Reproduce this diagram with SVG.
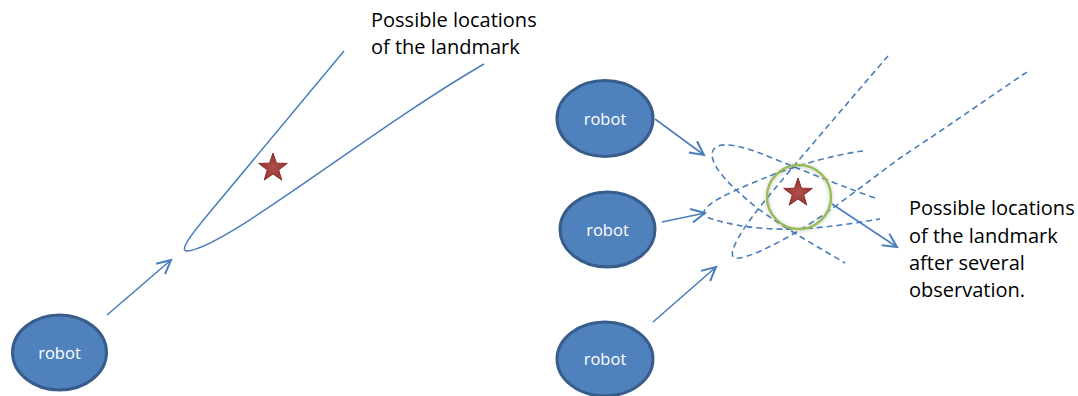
<svg xmlns="http://www.w3.org/2000/svg" width="1078" height="396" viewBox="0 0 1078 396">
<defs>
<marker id="arr" markerUnits="userSpaceOnUse" markerWidth="20" markerHeight="20" viewBox="-12 -8 14 16" refX="0" refY="0" orient="auto">
<path d="M -11,-5.5 L 0,0 L -11,5.5" fill="none" stroke="#4A7EBB" stroke-width="1.6" stroke-linejoin="miter"/>
</marker>
<radialGradient id="starg" cx="0.5" cy="0.55" r="0.5">
<stop offset="0" stop-color="#B0504D"/>
<stop offset="1" stop-color="#943532"/>
</radialGradient>
<filter id="glow" x="-30%" y="-30%" width="160%" height="160%">
<feGaussianBlur in="SourceAlpha" stdDeviation="2"/>
<feOffset dx="0" dy="1" result="b"/>
<feComponentTransfer><feFuncA type="linear" slope="0.25"/></feComponentTransfer>
<feMerge><feMergeNode/><feMergeNode in="SourceGraphic"/></feMerge>
</filter>
</defs>
<style>
.robot ellipse{fill:#4F81BD;stroke:#385D8A;stroke-width:3}
.robot text{fill:#FFFFFF;font-family:"Open Sans","Liberation Sans",Arial,sans-serif;font-size:16.5px;text-anchor:middle}
.conn{fill:none;stroke:#4A7EBB;stroke-width:1.5}
.dash{fill:none;stroke:#4A7EBB;stroke-width:1.6;stroke-dasharray:6 4}
.arrow{fill:none;stroke:#4A7EBB;stroke-width:1.6;marker-end:url(#arr)}
.star{fill:url(#starg);stroke:#8A2E2B;stroke-width:1}
.label{fill:#000000;font-family:"Open Sans","Liberation Sans",Arial,sans-serif;font-size:20px}
</style>

<g id="robot-left" class="robot">
<ellipse cx="59.5" cy="352.5" rx="47" ry="37.5"/>
<text x="59.5" y="358.5">robot</text>
</g>
<g id="robot-r1" class="robot">
<ellipse cx="605" cy="118.5" rx="48" ry="38"/>
<text x="605" y="124.5">robot</text>
</g>
<g id="robot-r2" class="robot">
<ellipse cx="607.5" cy="229.5" rx="47.5" ry="37.5"/>
<text x="607.5" y="235.5">robot</text>
</g>
<g id="robot-r3" class="robot">
<ellipse cx="605" cy="359" rx="48" ry="37"/>
<text x="605" y="365">robot</text>
</g>

<g id="region-left">
<path class="conn" d="M 344,51 L 210,212 C 190,236 178,252 188,251 C 230,245 370,130 484,64"/>
</g>

<g id="regions-right">
<path class="dash" d="M 875,198 C 830,182 790,165 757,152 C 735,144 712,140 712,155 C 713,170 735,190 757,208 C 790,232 820,248 845,263"/>
<path class="dash" d="M 863,151 C 830,155 790,168 767,177 C 745,186 720,196 708,206 C 700,213 705,217 712,219 C 730,225 760,230 793,229 C 830,228 860,222 880,219"/>
<path class="dash" d="M 888,56 C 850,100 790,170 763,203 C 745,225 725,255 735,258 C 745,260 775,245 800,230 C 830,212 870,180 900,158 C 950,125 1000,90 1027,72"/>
</g>

<g id="landmark-left">
<polygon class="star" transform="translate(273,168)" points="0,-15 3.5,-4.8 14.3,-4.6 5.7,1.9 8.8,12.1 0,6 -8.8,12.1 -5.7,1.9 -14.3,-4.6 -3.5,-4.8"/>
</g>
<g id="landmark-right">
<polygon class="star" transform="translate(798,193)" points="0,-15 3.5,-4.8 14.3,-4.6 5.7,1.9 8.8,12.1 0,6 -8.8,12.1 -5.7,1.9 -14.3,-4.6 -3.5,-4.8"/>
<circle cx="799" cy="197" r="32" fill="none" stroke="#9BBB59" stroke-width="2.5" filter="url(#glow)"/>
</g>

<g id="connectors">
<line class="arrow" x1="107" y1="315" x2="171" y2="260"/>
<line class="arrow" x1="655" y1="119" x2="704" y2="155"/>
<line class="arrow" x1="662" y1="222" x2="705" y2="213"/>
<line class="arrow" x1="653" y1="322" x2="716" y2="267"/>
<line class="arrow" x1="832" y1="204" x2="897" y2="247"/>
</g>

<g id="label-left">
<text class="label" x="371" y="27">Possible locations</text>
<text class="label" x="371" y="54">of the landmark</text>
</g>
<g id="label-right">
<text class="label" x="909" y="215">Possible locations</text>
<text class="label" x="909" y="242.5">of the landmark</text>
<text class="label" x="909" y="270">after several</text>
<text class="label" x="909" y="297">observation.</text>
</g>
</svg>
